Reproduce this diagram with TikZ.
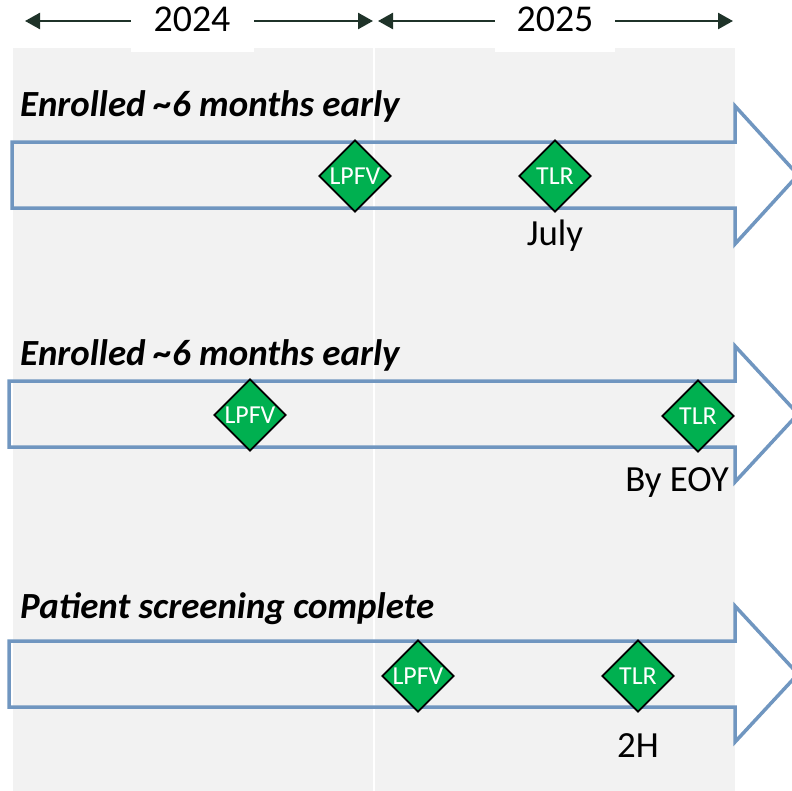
\documentclass[tikz,border=0pt]{standalone}
\usepackage{fontspec}
\setmainfont{Carlito}
\usetikzlibrary{shapes.geometric,arrows.meta}
\definecolor{bgc}{HTML}{F2F2F2}
\definecolor{arc}{HTML}{7096C0}
\definecolor{hdr}{HTML}{1F3329}
\definecolor{msg}{HTML}{00B050}
\begin{document}
\begin{tikzpicture}[x=1bp,y=-1bp,
 milestone/.style={diamond, shape aspect=1, draw=black, line width=1.8bp, fill=msg, inner sep=0pt, minimum width=72bp, minimum height=72bp, text=white, font=\fontsize{26}{26}\selectfont},
 phase/.style={draw=arc, line width=3.5bp, line join=miter},
 titletext/.style={anchor=base west, inner sep=0pt, font=\fontsize{37}{37}\selectfont\bfseries\itshape},
 note/.style={anchor=base, inner sep=0pt, font=\fontsize{37}{37}\selectfont},
 yearlbl/.style={fill=white, inner sep=0pt, text height=24bp, text depth=0pt, minimum height=64bp, font=\fontsize{38}{38}\selectfont},
 yeararrow/.style={draw=hdr, line width=2.5bp, {Triangle[length=15bp,width=16bp]}-{Triangle[length=15bp,width=16bp]}}
]
\useasboundingbox (0,0) rectangle (792,791);
% background
\fill[bgc] (13,48) rectangle (735,791);
\coordinate (divtop) at (374,48);
\coordinate (divbot) at (374,791);
\draw[white, line width=2bp] (divtop) -- (divbot);
% header
\coordinate (a1) at (25,21);
\coordinate (b1) at (373,21);
\coordinate (a2) at (378,21);
\coordinate (b2) at (733,21);
\draw[yeararrow] (a1) -- (b1);
\draw[yeararrow] (a2) -- (b2);
\node[yearlbl, minimum width=123bp] (y2024) at (192,20) {2024};
\node[yearlbl, minimum width=120bp] (y2025) at (555,20) {2025};
% phase arrows
\draw[phase] (12,142) -- (735,142) -- (735,106) -- (798,175) -- (735,244) -- (735,208) -- (12,208) -- cycle;
\draw[phase] (9,381) -- (735,381) -- (735,346) -- (798,414) -- (735,482) -- (735,447) -- (9,447) -- cycle;
\draw[phase] (9,641) -- (735,641) -- (735,606) -- (798,674) -- (735,742) -- (735,707) -- (9,707) -- cycle;
% titles
\node[titletext] (t1) at (20,116) {Enrolled \textasciitilde 6 months early};
\node[titletext] (t2) at (20,365) {Enrolled \textasciitilde 6 months early};
\node[titletext] (t3) at (20,618) {Patient screening complete};
% milestones
\node[milestone] (l1) at (355,176) {LPFV};
\node[milestone] (r1) at (555,176) {TLR};
\node[milestone] (l2) at (250,415) {LPFV};
\node[milestone] (r2) at (698,416) {TLR};
\node[milestone] (l3) at (418,676) {LPFV};
\node[milestone] (r3) at (638,676) {TLR};
% notes
\node[note] (n1) at (555,245) {July};
\node[note] (n2) at (677,491) {By EOY};
\node[note] (n3) at (638,757) {2H};
\end{tikzpicture}
\end{document}
